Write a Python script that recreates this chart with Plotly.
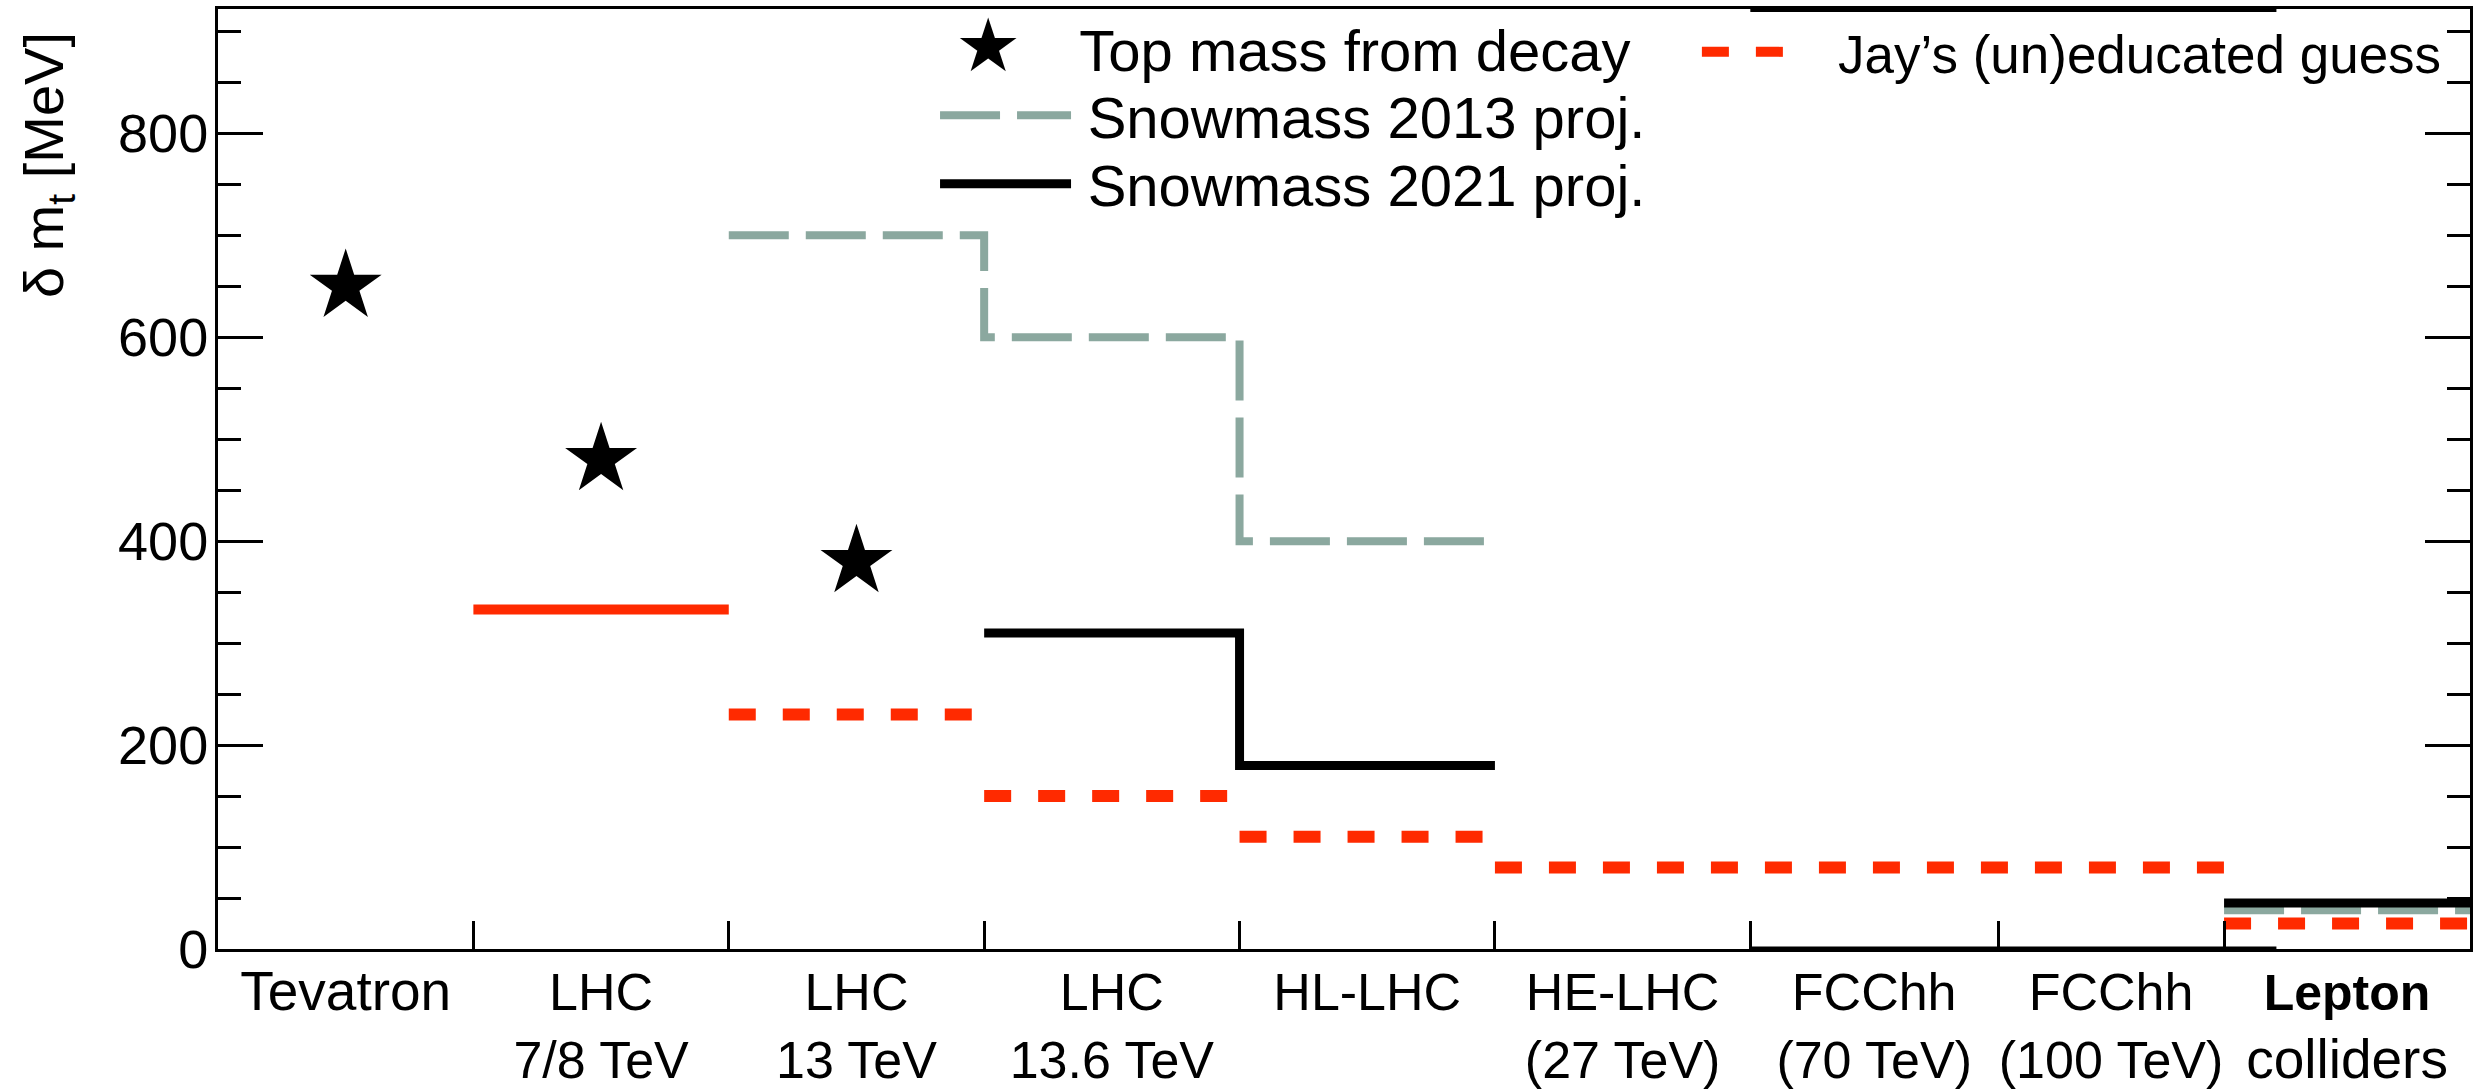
import plotly.graph_objects as go

# ---------------- data ----------------
categories = ['<span style="font-size:55px">Tevatron</span>', "LHC<br>7/8 TeV", "LHC<br>13 TeV",
              "LHC<br>13.6 TeV", "HL-LHC", "HE-LHC<br>(27 TeV)", "FCChh<br>(70 TeV)",
              "FCChh<br>(100 TeV)",
              '<b style="font-size:50px">Lepton</b><br><span style="font-size:55px">colliders</span>']
# category boundaries (axis layout in category units; last bins drawn narrower as in the original)
bin_edges = [0, 1, 2, 3, 4, 5, 6, 6.97, 7.855, 8.818]

top_mass_decay = [650, 480, 380, None, None, None, None, None, None]
snowmass_2013 = [None, None, 700, 600, 400, None, None, None, 38]
snowmass_2021 = [None, None, None, 310, 180, None, None, None, 45]
jay_guess = [None, None, 230, 150, 110, 80, 80, 80, 25]
lhc78_current = [None, 333, None, None, None, None, None, None, None]

RED = "#FF2A00"
GRAY = "#8BA89F"
FONT = "Liberation Sans, Arial, Helvetica, sans-serif"

centers = [(bin_edges[i] + bin_edges[i + 1]) / 2 for i in range(len(categories))]


def steps(values, connect):
    """Build horizontal segments per bin; optionally join neighbouring bins with vertical steps."""
    xs, ys = [], []
    prev = None
    for i, v in enumerate(values):
        if v is None:
            if prev is not None:
                xs.append(None); ys.append(None)
            prev = None
            continue
        x0, x1 = bin_edges[i], bin_edges[i + 1]
        if prev is None:
            xs += [x0, x1]; ys += [v, v]
        elif prev == v:
            xs[-1] = x1
        elif connect:
            xs += [x0, x1]; ys += [v, v]
        else:
            xs += [None, x0, x1]; ys += [None, v, v]
        prev = v
    return xs, ys


fig = go.Figure()

sx = [centers[i] for i, v in enumerate(top_mass_decay) if v is not None]
sy = [v for v in top_mass_decay if v is not None]
fig.add_trace(go.Scatter(x=sx, y=sy, mode="markers", name="Top mass from decay",
                         marker=dict(symbol="star", size=54, color="black", line=dict(width=0)),
                         showlegend=False))
# legend entry for the stars (large star glyph, as the legend caps marker sizes)
fig.add_trace(go.Scatter(x=[None], y=[None], mode="markers",
                         name='<span style="font-size:74px;font-family:DejaVu Sans">★</span>\u2003Top mass from decay',
                         marker=dict(size=2, color="rgba(0,0,0,0)"), legend="legend3"))

x13, y13 = steps(snowmass_2013, True)
fig.add_trace(go.Scatter(x=x13, y=y13, mode="lines", name="\u2009Snowmass 2013 proj.",
                         line=dict(color=GRAY, width=8, dash="60px,17px"), legend="legend"))

x21, y21 = steps(snowmass_2021, True)
fig.add_trace(go.Scatter(x=x21, y=y21, mode="lines", name="\u2009Snowmass 2021 proj.",
                         line=dict(color="black", width=9), legend="legend4"))

xj, yj = steps(jay_guess, False)
fig.add_trace(go.Scatter(x=xj, y=yj, mode="lines", name="\u2002\u00a0Jay’s (un)educated guess",
                         line=dict(color=RED, width=12, dash="27px,27px"), legend="legend2"))

xc, yc = steps(lhc78_current, False)
fig.add_trace(go.Scatter(x=xc, y=yc, mode="lines", showlegend=False,
                         line=dict(color=RED, width=10)))

leg = dict(xanchor="left", yanchor="top", bgcolor="rgba(0,0,0,0)")
fig.update_layout(
    width=2487, height=1092,
    margin=dict(l=218, r=17, t=9, b=143, autoexpand=False),
    plot_bgcolor="white", paper_bgcolor="white",
    font=dict(family=FONT, color="black"),
    xaxis=dict(range=[0, bin_edges[-1]], showgrid=False, zeroline=False, automargin=False,
               showline=True, linecolor="black", linewidth=3, mirror=True,
               tickmode="array", tickvals=centers, ticktext=categories, ticks="",
               tickfont=dict(size=52, family=FONT, color="black"), ticklabelstandoff=-4,
               minor=dict(tickmode="array", tickvals=bin_edges[1:-1], ticks="inside",
                          ticklen=28, tickwidth=3, tickcolor="black")),
    yaxis=dict(range=[0, 922], showgrid=False, zeroline=False, automargin=False,
               showline=True, linecolor="black", linewidth=3, mirror="allticks",
               tickmode="linear", tick0=0, dtick=200, ticks="inside", ticklen=45,
               tickwidth=2.5, tickcolor="black",
               tickfont=dict(size=54, family=FONT, color="black"), ticklabelstandoff=-4,
               minor=dict(dtick=50, ticks="inside", ticklen=23, tickwidth=2.5, tickcolor="black")),
    legend3=dict(x=0.3095, y=1.0055, font=dict(size=58, family=FONT), itemwidth=30, **leg),
    legend=dict(x=0.3184, y=0.934, font=dict(size=58, family=FONT), itemwidth=131, **leg),
    legend4=dict(x=0.3184, y=0.861, font=dict(size=58, family=FONT), itemwidth=131, **leg),
    legend2=dict(x=0.6567, y=0.998, font=dict(size=53, family=FONT), itemwidth=90, **leg),
    annotations=[dict(text="δ m<sub>t</sub> [MeV]", textangle=-90, xref="paper", yref="paper",
                      x=-0.0759, y=0.834, xanchor="center", yanchor="middle", showarrow=False,
                      font=dict(size=56, family=FONT, color="black"))],
    shapes=[
        dict(type="line", xref="x", yref="paper", x0=bin_edges[6], x1=8.06, y0=1, y1=1,
             line=dict(color="black", width=6)),
        dict(type="line", xref="x", yref="paper", x0=bin_edges[6], x1=8.06, y0=0, y1=0,
             line=dict(color="black", width=5)),
    ],
)

fig.write_html("out.html")
